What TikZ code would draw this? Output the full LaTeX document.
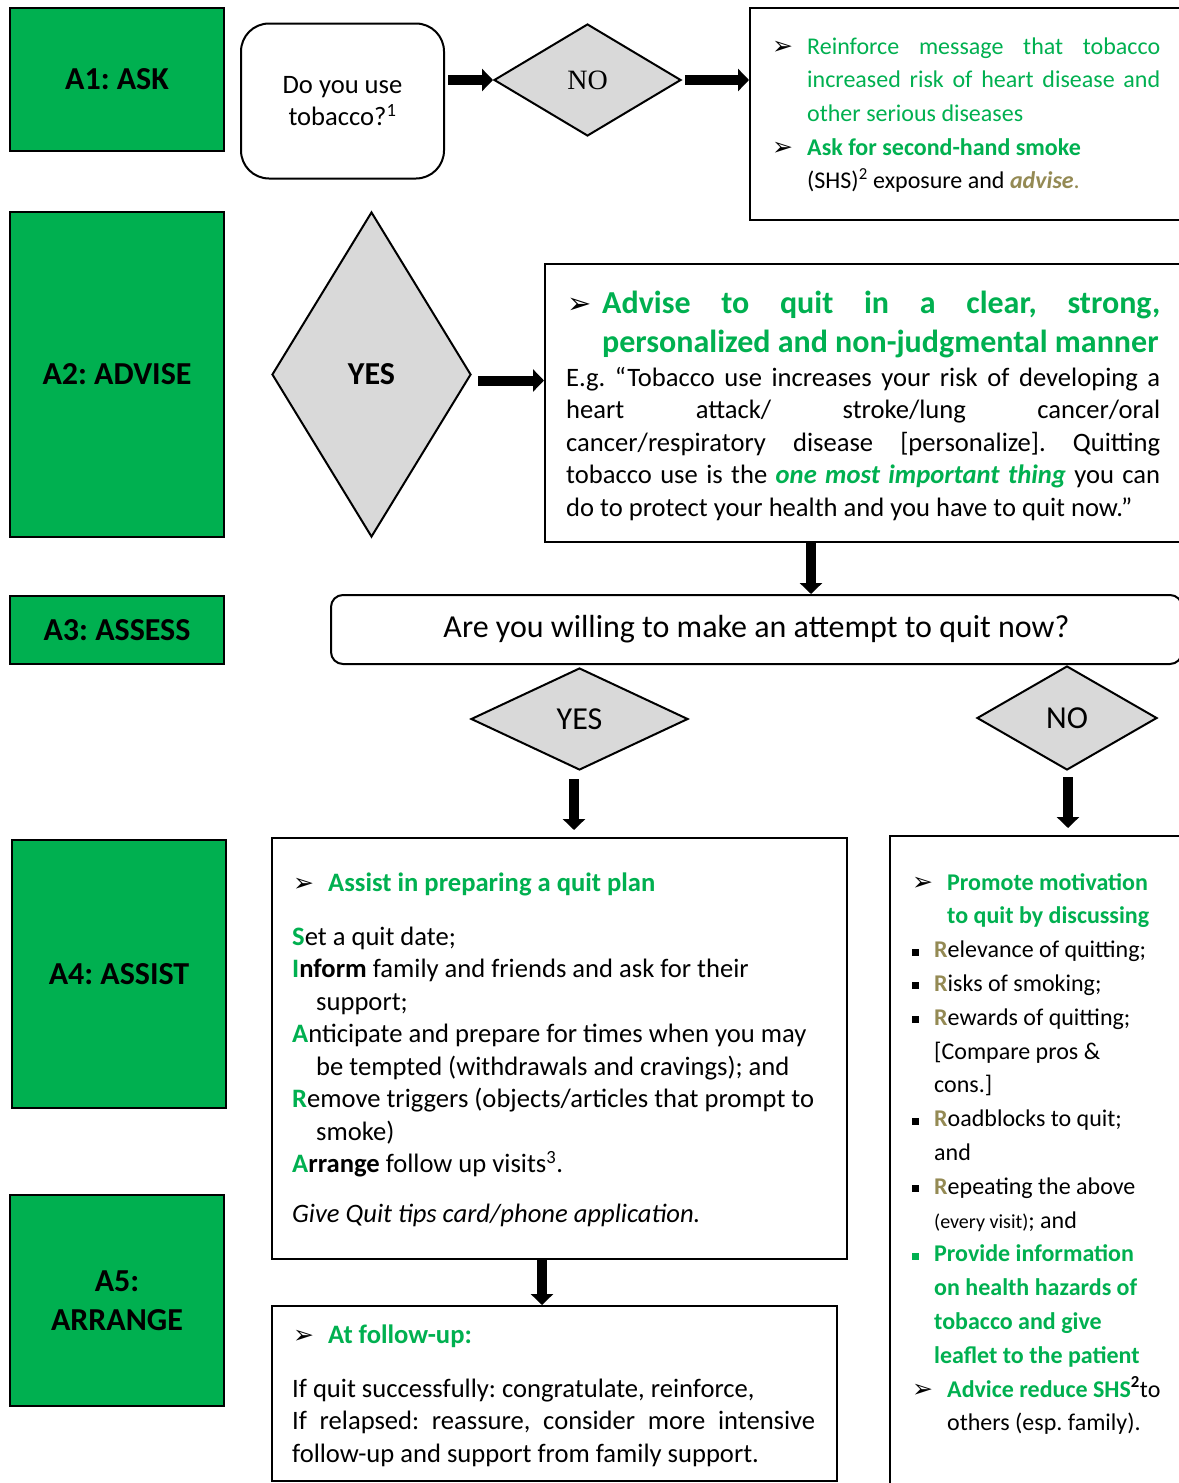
\documentclass[tikz,border=0pt]{standalone}
\usepackage{fontspec}
\setmainfont{Carlito}
\newfontfamily\dejavu{DejaVu Sans}
\newfontfamily\serifnf{Liberation Serif}
\usetikzlibrary{shapes.geometric,arrows.meta,calc}
\definecolor{grn}{RGB}{0,176,80}
\definecolor{olivetxt}{RGB}{148,138,84}
\definecolor{dgray}{RGB}{217,217,217}
\frenchspacing
\newcommand\G[1]{\textcolor{grn}{\textbf{#1}}}
\newcommand\OL[1]{\textcolor{olivetxt}{\textbf{#1}}}
\newcommand\J[1]{\leavevmode\hbox to \hsize{\spaceskip=0pt\xspaceskip=0pt\relax #1}}
\newcommand\abul[1][25pt]{\leavevmode\llap{\makebox[35pt][l]{\textcolor{black}{\dejavu\fontsize{#1}{#1}\selectfont ➢}}}}
\newcommand\sqb[1][black]{\leavevmode\llap{\makebox[22pt][l]{\textcolor{#1}{\rule[2pt]{7pt}{7pt}}}}}
\begin{document}
\begin{tikzpicture}[x=1pt,y=-1pt,
  every node/.style={execute at begin node={\spaceskip=0pt\xspaceskip=0pt\relax}},
  box/.style={draw=black, line width=2pt},
  greenbox/.style={box, fill=grn, font=\fontsize{32pt}{39pt}\selectfont\bfseries, align=center, inner sep=0pt},
  dia/.style={diamond, draw=black, line width=2pt, fill=dgray, inner sep=0pt},
  bigarrow/.style={line width=10pt, -{Triangle[width=22pt,length=11pt]}},
  txt/.style={anchor=base west, inner sep=0pt, align=left},
  body/.style={txt, font=\fontsize{26.6pt}{32.5pt}\selectfont},
]
\useasboundingbox (0,0) rectangle (1178,1483);
\fill[white] (0,0) rectangle (1178,1483);

% left stage labels
\node[greenbox, minimum width=214, minimum height=143] (a1) at (117,79.5) {A1: ASK};
\node[greenbox, minimum width=214, minimum height=325] (a2) at (117,374.5) {A2: ADVISE};
\node[greenbox, minimum width=214, minimum height=68] (a3) at (117,630) {A3: ASSESS};
\node[greenbox, minimum width=214, minimum height=268] (a4) at (119,974) {A4: ASSIST};
\node[greenbox, minimum width=214, minimum height=211] (a5) at (117,1300.5) {A5:\\ARRANGE};

% row 1
\node[box, rounded corners=28pt, minimum width=203, minimum height=155, align=center,
      font=\fontsize{26.6pt}{32pt}\selectfont] (ask) at (342.5,101) {Do you use\\tobacco?\textsuperscript{1}};
\node[dia, minimum width=187, minimum height=112, font=\serifnf\fontsize{28pt}{28pt}\selectfont] (no1) at (587.5,80) {NO};
\node[box, minimum width=433, minimum height=212, anchor=north west] (reinf) at (749,7) {};
\node[txt, text width=353, font=\fontsize{24pt}{33.7pt}\selectfont, text=grn] (reinftxt) at (807,54)
 {\abul\J{Reinforce message that tobacco}\\
  \J{increased risk of heart disease and}\\
  other serious diseases\\
  \abul\textbf{Ask for second-hand smoke}\\
  \textcolor{black}{(SHS)\textsuperscript{2} exposure and }\textcolor{olivetxt}{\textbf{\textit{advise}}.}};

% row 2
\node[dia, minimum width=199, minimum height=325, font=\fontsize{32pt}{32pt}\selectfont\bfseries] (yes1) at (371.5,374.5) {YES};
\node[box, minimum width=638, minimum height=278, anchor=north west] (advise) at (544,263) {};
\node[txt, text width=558, font=\fontsize{32pt}{39pt}\selectfont\bfseries, text=grn] (advh) at (602,313)
 {\abul[29pt]\J{Advise to quit in a clear, strong,}\\
  \mbox{personalized and non-judgmental manner}};
\node[body, text width=594] (advb) at (566,386)
 {\J{E.g. “Tobacco use increases your risk of developing a}\\
  \J{heart attack/ stroke/lung cancer/oral}\\
  \J{cancer/respiratory disease [personalize]. Quitting}\\
  \J{tobacco use is the \textcolor{grn}{\textbf{\textit{one most important thing}}} you can}\\
  \mbox{do to protect your health and you have to quit now.”}};

% row 3
\node[box, rounded corners=12pt, minimum width=851, minimum height=69,
      font=\fontsize{32pt}{32pt}\selectfont] (quest) at (756.5,629.5) {Are you willing to make an attempt to quit now?};
\node[dia, minimum width=217, minimum height=102, font=\fontsize{32pt}{32pt}\selectfont] (yes2) at (579.5,719) {YES};
\node[dia, minimum width=180, minimum height=104, font=\fontsize{32pt}{32pt}\selectfont] (no2) at (1067,718) {NO};

% row 4: assist
\node[box, minimum width=575, minimum height=421, anchor=north west] (assist) at (271,837) {};
\node[body, font=\fontsize{26.6pt}{32.5pt}\selectfont\bfseries, text=grn] (assh) at (328,891) {\abul Assist in preparing a quit plan};
\node[body, text width=540] (assb) at (292,945)
 {\G{S}et a quit date;\\
  \G{I}\textbf{nform} family and friends and ask for their\\
  \hspace*{24pt}support;\\
  \G{A}nticipate and prepare for times when you may\\
  \hspace*{24pt}be tempted (withdrawals and cravings); and\\
  \G{R}emove triggers (objects/articles that prompt to\\
  \hspace*{24pt}smoke)\\
  \G{A}\textbf{rrange} follow up visits\textsuperscript{3}.\\[17pt]
  \textit{Give Quit tips card/phone application.}};

% row 4: no branch
\node[box, minimum width=293, minimum height=660, anchor=north west] (nobox) at (889,835) {};
\node[txt, text width=240, font=\fontsize{24pt}{33.8pt}\selectfont] (nob) at (934,890)
 {\hspace*{13pt}\abul\G{Promote motivation}\\
  \hspace*{13pt}\G{to quit by discussing}\\
  \sqb\OL{R}elevance of quitting;\\
  \sqb\OL{R}isks of smoking;\\
  \sqb\OL{R}ewards of quitting;\\
  {[}Compare pros \&\\
  cons.]\\
  \sqb\OL{R}oadblocks to quit;\\
  and\\
  \sqb\OL{R}epeating the above\\
  {\fontsize{20pt}{20pt}\selectfont(every visit)}; and\\
  \sqb[grn]\G{Provide information}\\
  \G{on health hazards of}\\
  \G{tobacco and give}\\
  \G{leaflet to the patient}\\
  \hspace*{13pt}\abul\G{Advice reduce SHS}\textsuperscript{\textbf{2}}to\\
  \hspace*{13pt}others (esp. family).};

% row 5: arrange
\node[box, minimum width=565, minimum height=175, anchor=north west] (follow) at (271,1305) {};
\node[body, font=\fontsize{26.6pt}{32.5pt}\selectfont\bfseries, text=grn] (folh) at (328,1343) {\abul At follow-up:};
\node[body, text width=523] (folb) at (292,1397)
 {If quit successfully: congratulate, reinforce,\\
  \J{If relapsed: reassure, consider more intensive}\\
  \mbox{follow-up and support from family support.}};

% connectors
\draw[bigarrow] ($(ask.east |- no1.west)+(3,0)$) -- (no1.west);
\draw[bigarrow] ($(no1.east)+(3,0)$) -- (no1.east -| reinf.west);
\draw[bigarrow] ($(yes1.east)+(6,6)$) -- ($(yes1.east -| advise.west)+(0,6)$);
\draw[bigarrow] ($(advise.south)+(-53,0)$) -- ($(advise.south |- quest.north)+(-53,0)$);
\draw[bigarrow] ($(yes2.south)+(-5.5,8)$) -- ($(yes2.south |- assist.north)+(-5.5,-7)$);
\draw[bigarrow] ($(no2.south)+(1,6)$) -- ($(no2.south |- nobox.north)+(1,-7)$);
\draw[bigarrow] ($(assist.south)+(-17.5,0)$) -- ($(assist.south |- follow.north)+(-17.5,0)$);
\end{tikzpicture}
\end{document}
